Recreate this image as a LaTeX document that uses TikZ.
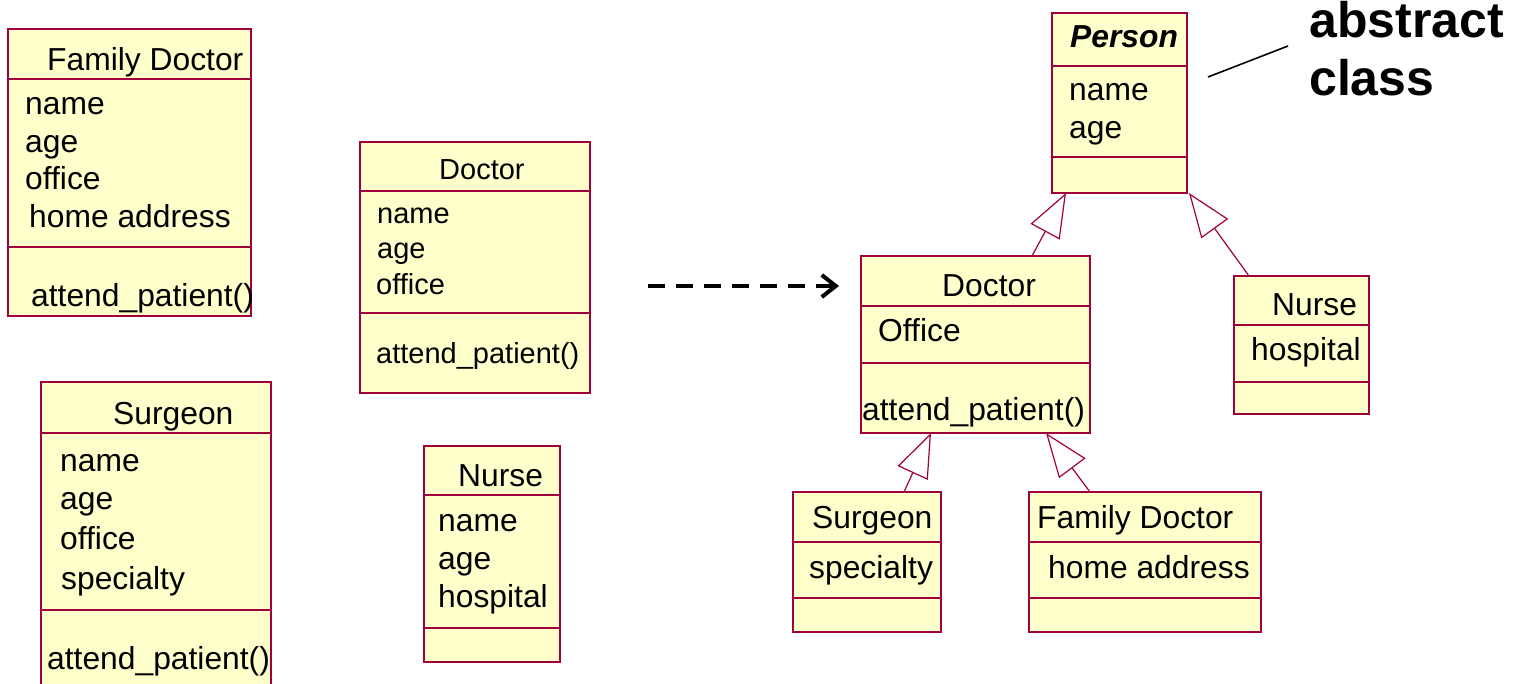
\documentclass[tikz,border=0pt]{standalone}
\usepackage{fontspec}
\setmainfont{Liberation Sans}
\usetikzlibrary{arrows.meta}
\definecolor{umlfill}{RGB}{255,255,204}
\definecolor{umlline}{RGB}{160,0,60}

\begin{document}
\begin{tikzpicture}[x=1pt,y=-1pt,
  cls/.style={draw=umlline, fill=umlfill, line width=1.4pt, rectangle,
    anchor=north west, inner sep=0pt, outer sep=0pt},
  sep/.style={draw=umlline, line width=1.2pt},
  txt/.style={anchor=base west, inner sep=0pt, font=\fontsize{31.8}{37}\selectfont},
  txts/.style={anchor=base west, inner sep=0pt, font=\fontsize{29}{35}\selectfont},
  inherit/.style={draw=umlline, line width=1.2pt,
    -{Triangle[open, length=44pt, width=33pt, fill=white]}},
  refine/.style={line width=4pt, dash pattern=on 17pt off 11pt,
    -{Straight Barb[length=14pt, width=22pt]}},
]
\useasboundingbox (0,0) rectangle (1515,684);
\clip (0,0) rectangle (1515,684);

% ---------- flat classes (before factoring out) ----------
% Family Doctor
\node[cls, minimum width=243pt, minimum height=287pt] (fdL) at (8,29) {};
\draw[sep] (8,79) -- (251,79);
\draw[sep] (8,247) -- (251,247);
\node[txt] (fdLn) at (47,71) {Family Doctor};
\node[txt] (fdLa1) at (25,115) {name};
\node[txt] (fdLa2) at (25,153) {age};
\node[txt] (fdLa3) at (25,190) {office};
\node[txt] (fdLa4) at (29,228) {home address};
\node[txt] (fdLo1) at (31,307) {attend\_patient()};

% Surgeon
\node[cls, minimum width=230pt, minimum height=320pt] (surL) at (41,382) {};
\draw[sep] (41,433) -- (271,433);
\draw[sep] (41,610) -- (271,610);
\node[txt] (surLn) at (113,424) {Surgeon};
\node[txt] (surLa1) at (60,471) {name};
\node[txt] (surLa2) at (60,509) {age};
\node[txt] (surLa3) at (60,549) {office};
\node[txt] (surLa4) at (61,589) {specialty};
\node[txt] (surLo1) at (47,669) {attend\_patient()};

% Doctor
\node[cls, minimum width=230pt, minimum height=251pt] (docM) at (360,142) {};
\draw[sep] (360,191) -- (590,191);
\draw[sep] (360,313) -- (590,313);
\node[txts] (docMn) at (439,180) {Doctor};
\node[txts] (docMa1) at (377,224) {name};
\node[txts] (docMa2) at (377,259) {age};
\node[txts] (docMa3) at (376,295) {office};
\node[txts] (docMo1) at (376,364) {attend\_patient()};

% Nurse
\node[cls, minimum width=136pt, minimum height=216pt] (nurM) at (424,446) {};
\draw[sep] (424,495) -- (560,495);
\draw[sep] (424,628) -- (560,628);
\node[txt] (nurMn) at (458,486) {Nurse};
\node[txt] (nurMa1) at (438,531) {name};
\node[txt] (nurMa2) at (438,569) {age};
\node[txt] (nurMa3) at (438,607) {hospital};

% ---------- refinement arrow ----------
\coordinate (refFrom) at (648,286);
\coordinate (refTo) at (839,286);
\draw[refine] (refFrom) -- (refTo);

% ---------- generalised hierarchy ----------
% Person (abstract)
\node[cls, minimum width=135pt, minimum height=180pt] (person) at (1052,13) {};
\draw[sep] (1052,66) -- (1187,66);
\draw[sep] (1052,157) -- (1187,157);
\node[txt, font=\fontsize{31.8}{37}\selectfont\bfseries\itshape] (personn) at (1070,48) {Person};
\node[txt] (persona1) at (1069,101) {name};
\node[txt] (persona2) at (1069,139) {age};

% Doctor
\node[cls, minimum width=229pt, minimum height=177pt] (docR) at (861,256) {};
\draw[sep] (861,306) -- (1090,306);
\draw[sep] (861,363) -- (1090,363);
\node[txt] (docRn) at (942,297) {Doctor};
\node[txt] (docRa1) at (878,342) {Office};
\node[txt] (docRo1) at (862,420) {attend\_patient()};

% Nurse
\node[cls, minimum width=135pt, minimum height=138pt] (nurR) at (1234,276) {};
\draw[sep] (1234,325) -- (1369,325);
\draw[sep] (1234,382) -- (1369,382);
\node[txt] (nurRn) at (1272,316) {Nurse};
\node[txt] (nurRa1) at (1251,361) {hospital};

% Surgeon
\node[cls, minimum width=148pt, minimum height=140pt] (surR) at (793,492) {};
\draw[sep] (793,542) -- (941,542);
\draw[sep] (793,598) -- (941,598);
\node[txt] (surRn) at (812,528) {Surgeon};
\node[txt] (surRa1) at (809,578) {specialty};

% Family Doctor
\node[cls, minimum width=232pt, minimum height=140pt] (fdR) at (1029,492) {};
\draw[sep] (1029,542) -- (1261,542);
\draw[sep] (1029,598) -- (1261,598);
\node[txt] (fdRn) at (1037,528) {Family Doctor};
\node[txt] (fdRa1) at (1048,578) {home address};

% generalisation connectors
\draw[inherit] ([xshift=171pt]docR.north west) -- ([xshift=14pt]person.south west);
\draw[inherit] ([xshift=15pt]nurR.north west) -- ([xshift=2pt]person.south east);
\draw[inherit] ([xshift=111pt]surR.north west) -- ([xshift=70pt]docR.south west);
\draw[inherit] ([xshift=61pt]fdR.north west) -- ([xshift=185pt]docR.south west);

% abstract class note
\node[anchor=base west, inner sep=0pt, font=\fontsize{50}{58}\selectfont\bfseries] (absA) at (1309,38) {abstract};
\node[anchor=base west, inner sep=0pt, font=\fontsize{50}{58}\selectfont\bfseries] (absB) at (1309,96) {class};
\coordinate (noteFrom) at (1208,77);
\coordinate (noteTo) at (1288,46);
\draw[line width=1.6pt] (noteFrom) -- (noteTo);
\end{tikzpicture}
\end{document}
